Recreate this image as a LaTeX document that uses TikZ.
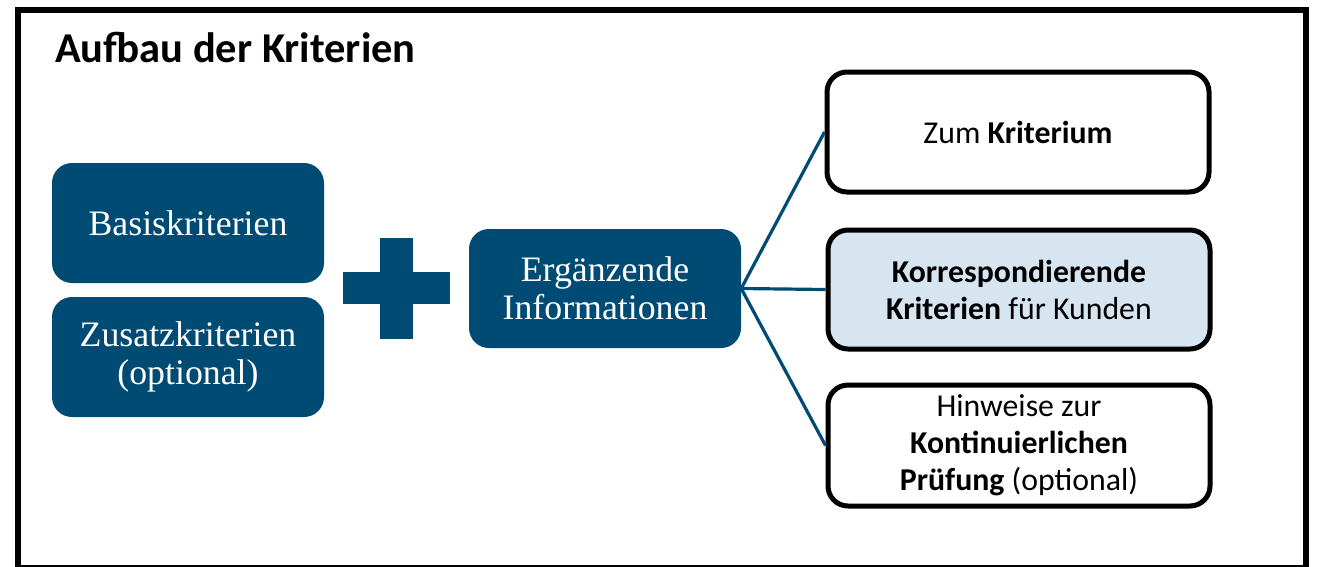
\documentclass[tikz,border=0pt]{standalone}
\usepackage{fontspec}
\setmainfont{Liberation Serif}
\newfontfamily\calfont{Carlito}
\definecolor{dblue}{RGB}{0,75,115}
\definecolor{lblue}{RGB}{214,229,240}
\tikzset{
  bluebox/.style={rounded corners=20pt, fill=dblue, text=white, minimum width=272pt, minimum height=120pt, align=center, inner sep=0pt, font=\fontsize{35.8}{38}\selectfont},
  whitebox/.style={rounded corners=20pt, draw=black, line width=5pt, fill=white, minimum width=382pt, minimum height=120pt, align=center, inner sep=0pt, font=\calfont\fontsize{31.8}{37}\selectfont},
  conn/.style={draw=dblue, line width=3.2pt},
}
\begin{document}
\begin{tikzpicture}[x=1pt,y=-1pt]
\useasboundingbox (0,0) rectangle (1317,566);
\fill[white] (0,0) rectangle (1317,566);
\draw[line width=6pt] (18,10) rectangle (1306,567.5);
\node[anchor=base west, inner sep=0pt, font=\calfont\bfseries\fontsize{42.5}{48}\selectfont] (title) at (55,62) {Aufbau der Kriterien};
\node[bluebox] (basis) at (188,223) {Basiskriterien};
\node[bluebox] (zusatz) at (188,357) {Zusatzkriterien\\(optional)};
\fill[dblue] (380,238) rectangle (413,339);
\fill[dblue] (343,272) rectangle (450,304);
\node[bluebox, minimum height=119pt] (erg) at (605,288.5) {Ergänzende\\Informationen};
\node[whitebox] (k1) at (1018,132) {Zum \textbf{Kriterium}};
\node[whitebox, fill=lblue, minimum height=119pt] (k2) at (1019,289.5) {\textbf{Korrespondierende}\\\textbf{Kriterien} für Kunden};
\node[whitebox, minimum height=121pt] (k3) at (1019,445.5) {Hinweise zur\\\textbf{Kontinuierlichen}\\\textbf{Prüfung} (optional)};
\draw[conn] (erg.east) -- (k1.west);
\draw[conn] (erg.east) -- (k2.west);
\draw[conn] (erg.east) -- (k3.west);
\end{tikzpicture}
\end{document}
